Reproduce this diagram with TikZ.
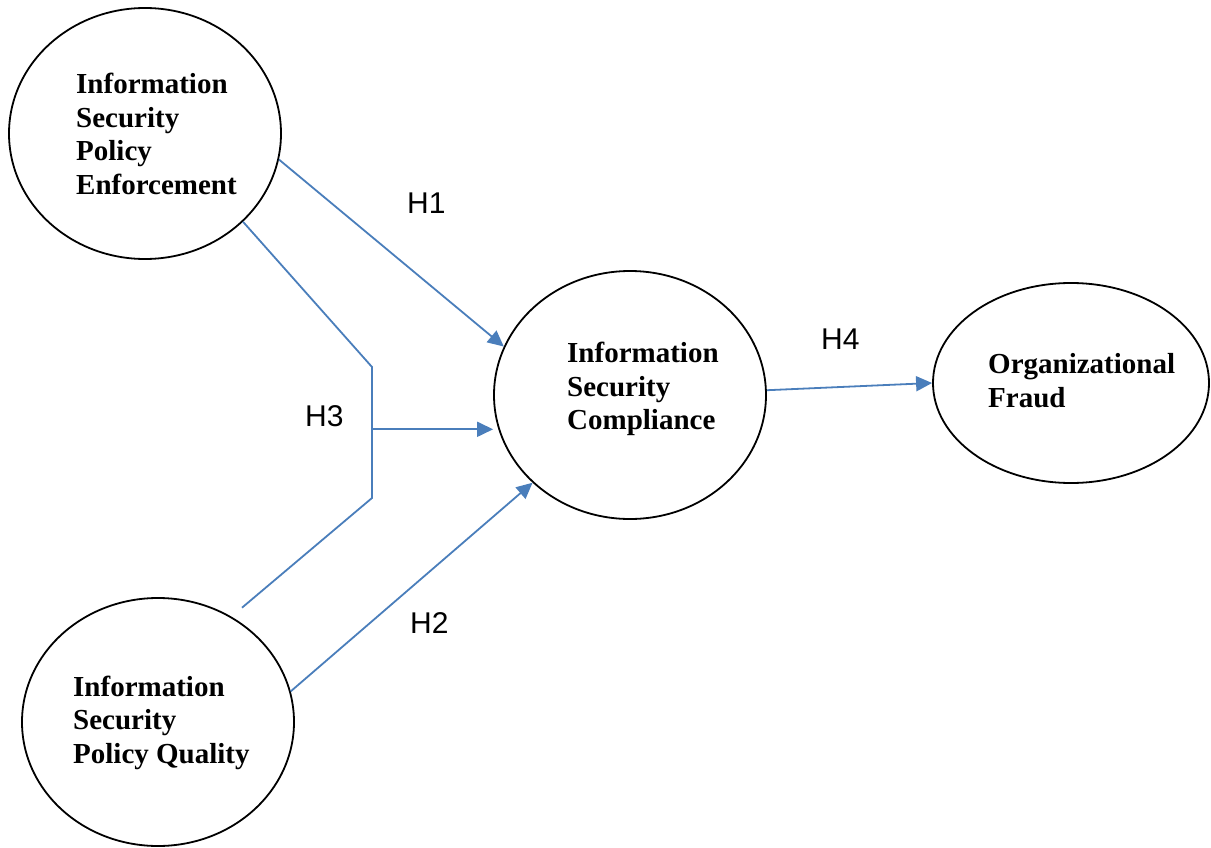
\documentclass[tikz,border=0pt]{standalone}
\usepackage{fontspec}
\setmainfont{Liberation Serif}
\newfontfamily\labelfont{Liberation Sans}
\usetikzlibrary{shapes.geometric,arrows.meta}
\definecolor{linkblue}{HTML}{4A7EBB}
\tikzset{
  construct/.style={ellipse, draw=black, line width=1.8pt, inner sep=0pt},
  % anchored at the baseline of the last line
  caption/.style={anchor=base west, align=left, inner sep=0pt,
    font=\fontsize{29}{33.5}\selectfont\bfseries},
  hyp/.style={anchor=base west, inner sep=0pt,
    font=\labelfont\fontsize{30}{36}\selectfont},
  link/.style={draw=linkblue, line width=1.8pt},
  arrowlink/.style={link, -{Triangle[length=16pt,width=15pt]}},
}
\begin{document}
\begin{tikzpicture}[x=1pt, y=-1pt]
  \useasboundingbox (0,0) rectangle (1211,848);

  % constructs
  \node[construct, minimum width=272pt, minimum height=251pt] (enf) at (145,133.5) {};
  \node[construct, minimum width=272pt, minimum height=248pt] (qual) at (158,722) {};
  \node[construct, minimum width=272pt, minimum height=248pt] (comp) at (630,395) {};
  \node[construct, minimum width=276pt, minimum height=200pt] (fraud) at (1071,383) {};

  % construct names
  \node[caption] (tEnf) at (76,194.5) {Information\\Security\\Policy\\Enforcement};
  \node[caption] (tQual) at (73,763) {Information\\Security\\Policy Quality};
  \node[caption] (tComp) at (567,429.5) {Information\\Security\\Compliance};
  \node[caption] (tFraud) at (988,407) {Organizational\\Fraud};

  % hypothesised paths
  \draw[arrowlink] (enf.-11.1) -- (comp.159);
  \draw[arrowlink] (qual.13.1) -- (comp.222.5);
  \draw[arrowlink] (comp.2.7) -- (fraud.west);

  % moderation path (H3)
  \coordinate (kneeTop) at (372,367);
  \coordinate (kneeBot) at (372,498);
  \coordinate (modMid) at (372,429.3);
  \coordinate (qualEnd) at (242,607.7);
  \draw[link] (enf.-42.4) -- (kneeTop) -- (kneeBot) -- (qualEnd);
  \draw[arrowlink] (modMid) -- (modMid -| comp.west);

  % hypothesis labels
  \node[hyp] (h1) at (407,213) {H1};
  \node[hyp] (h2) at (410,633) {H2};
  \node[hyp] (h3) at (305,426) {H3};
  \node[hyp] (h4) at (821,349) {H4};
\end{tikzpicture}
\end{document}
